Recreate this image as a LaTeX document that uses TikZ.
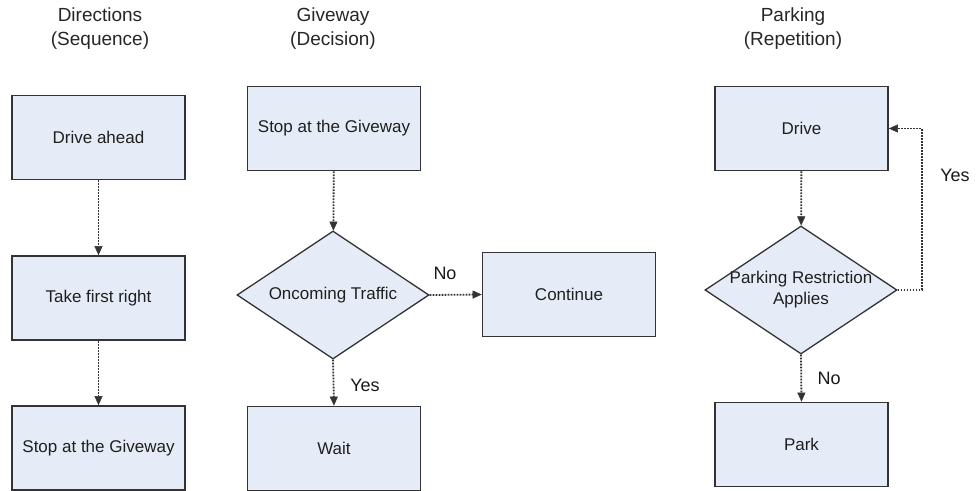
\documentclass[tikz,border=0pt]{standalone}
\usepackage{fontspec}
\setmainfont{Liberation Sans}
\usetikzlibrary{shapes.geometric,arrows.meta}
\definecolor{boxfill}{HTML}{E6ECF7}
\definecolor{lineclr}{HTML}{333333}
\begin{document}
\begin{tikzpicture}[x=1pt,y=-1pt,
  process/.style={draw=lineclr,line width=1.7pt,fill=boxfill,minimum width=173pt,minimum height=84pt,inner sep=0pt,
    font=\fontsize{17}{20}\selectfont,text=black!88},
  decision/.style={draw=lineclr,line width=1.3pt,fill=boxfill,diamond,inner sep=0pt,minimum width=192pt,minimum height=128pt},
  dtext/.style={font=\fontsize{17}{21}\selectfont,text=black!88,align=center},
  title/.style={font=\fontsize{19}{24}\selectfont,text=black!85,align=center},
  lbl/.style={font=\fontsize{18}{21}\selectfont,text=black!90},
  flow/.style={draw=lineclr,line width=1.8pt,dash pattern=on 1.8pt off 1.2pt,
    -{Triangle[length=9pt,width=8pt,fill=lineclr,line width=0.5pt,sep=0pt]}}]
\useasboundingbox (0,0) rectangle (977,490);

% column titles
\node[title] (t1) at (100,29) {Directions\\(Sequence)};
\node[title] (t2) at (333,29) {Giveway\\(Decision)};
\node[title] (t3) at (793,29) {Parking\\(Repetition)};

% sequence
\node[process] (a1) at (98.5,137.5) {Drive ahead};
\node[process] (a2) at (98.5,298) {Take first right};
\node[process] (a3) at (98.5,448) {Stop at the Giveway};
\draw[flow] (a1) -- (a2);
\draw[flow] (a2) -- (a3);

% decision
\node[process] (b1) at (334,128.5) {Stop at the Giveway};
\node[decision] (b2) at (333,295) {};
\node[dtext] (b2t) at (b2) {Oncoming Traffic};
\node[process] (b3) at (569,294.5) {Continue};
\node[process] (b4) at (334,448.5) {Wait};
\draw[flow] (b1) -- (b2);
\draw[flow] (b2.east) -- (b3.west);
\draw[flow] (b2.south) -- (b4.north);
\node[lbl] (bno) at (445,273) {No};
\node[lbl] (byes) at (365,385) {Yes};

% repetition
\node[process] (c1) at (801.5,128.5) {Drive};
\node[decision] (c2) at (801,290) {};
\node[dtext] (c2t) at (c2) {Parking Restriction\\Applies};
\node[process] (c3) at (801.5,444.5) {Park};
\draw[flow] (c1) -- (c2);
\draw[flow] (c2.south) -- (c3.north);
\draw[flow] (c2.east) -- ++(24,0) |- (c1.east);
\node[lbl] (cyes) at (955,175) {Yes};
\node[lbl] (cno) at (829,378) {No};
\end{tikzpicture}
\end{document}
